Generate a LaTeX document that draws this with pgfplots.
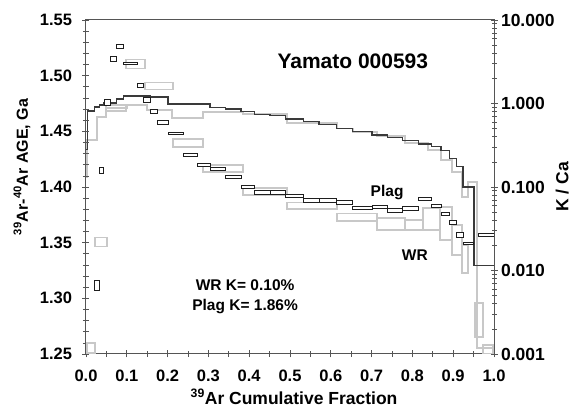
\documentclass[border=0pt]{standalone}
\usepackage{fontspec}
\setmainfont{Liberation Sans}
\usepackage{pgfplots}
\pgfplotsset{compat=1.18}
\definecolor{axgray}{HTML}{555555}
\definecolor{wrgray}{HTML}{C8C8C8}
\definecolor{plagblk}{HTML}{1E1E1E}
\definecolor{kcablk}{HTML}{3A3A3A}
\newcommand\pbx[4]{\addplot[plagbox] coordinates {(#1,#3)(#2,#3)(#2,#4)(#1,#4)} -- cycle;}
\newcommand\wbx[4]{\addplot[wrbox] coordinates {(#1,#3)(#2,#3)(#2,#4)(#1,#4)} -- cycle;}
\begin{document}
\begin{tikzpicture}
\useasboundingbox (-86pt,-57pt) rectangle (487pt,354pt);
% ---------- K/Ca axis (right, log) ----------
\begin{axis}[
  scale only axis, width=408pt, height=334pt,
  xmin=0, xmax=1, ymode=log, ymin=0.001, ymax=10,
  axis x line=none, axis y line*=right,
  y axis line style={-, axgray, line width=1pt},
  ytick={0.001,0.01,0.1,1,10},
  yticklabels={0.001,0.010,0.100,1.000,10.000},
  tick align=center, major tick length=7pt, minor tick length=5pt,
  every tick/.style={axgray, line width=0.7pt},
  yticklabel style={font=\fontsize{17.5}{20}\selectfont\bfseries},
  ylabel={K / Ca},
  ylabel style={at={(axis description cs:1.167,0.5)}, anchor=center,
    font=\fontsize{17.5}{20}\selectfont\bfseries},
]
% WR K/Ca
\addplot[const plot, draw=wrgray, line width=1.8pt, mark=none] coordinates {
 (0,0.13) (0.003,0.365) (0.027,0.689) (0.049,0.884) (0.101,0.959) (0.150,0.836)
 (0.211,0.670) (0.286,0.791) (0.385,0.743) (0.493,0.579) (0.615,0.502)
 (0.654,0.4595) (0.713,0.408) (0.782,0.3365) (0.838,0.2774) (0.870,0.2106)
 (0.897,0.151) (0.922,0.0759) (0.936,0.1148) (0.958,0.00118) (1.0,0.00118)};
% Plag K/Ca
\addplot[const plot, draw=kcablk, line width=1.1pt, mark=none] coordinates {
 (0,0.28) (0.003,0.813) (0.020,0.908) (0.034,0.959) (0.044,1.014) (0.074,1.132)
 (0.093,1.23) (0.157,1.197) (0.201,0.986) (0.304,0.901) (0.341,0.859)
 (0.380,0.798) (0.412,0.743) (0.451,0.714) (0.490,0.652) (0.532,0.605)
 (0.571,0.564) (0.615,0.502) (0.654,0.460) (0.701,0.420) (0.738,0.394)
 (0.775,0.358) (0.816,0.327) (0.846,0.304) (0.870,0.272) (0.890,0.221)
 (0.909,0.174) (0.924,0.100) (0.951,0.0116) (1.0,0.0116)};
\end{axis}
% ---------- Age axis (left) ----------
\begin{axis}[
  scale only axis, width=408pt, height=334pt,
  xmin=0, xmax=1, ymin=1.25, ymax=1.55,
  xtick={0,0.1,0.2,0.3,0.4,0.5,0.6,0.7,0.8,0.9,1.0},
  ytick={1.25,1.30,1.35,1.40,1.45,1.50,1.55},
  minor x tick num=1, minor y tick num=4,
  xtick pos=left, ytick pos=left,
  tick align=center, major tick length=7pt, minor tick length=6pt,
  every tick/.style={axgray, line width=0.7pt},
  axis line style={axgray, line width=1pt},
  /pgf/number format/assume math mode=true,
  x tick label style={/pgf/number format/.cd, fixed, fixed zerofill, precision=1, /tikz/.cd, yshift=-9pt},
  y tick label style={/pgf/number format/.cd, fixed, fixed zerofill, precision=2, /tikz/.cd, xshift=-7pt},
  ticklabel style={font=\fontsize{16.5}{19}\selectfont\bfseries},
  xlabel={\textsuperscript{39}Ar Cumulative Fraction},
  xlabel style={at={(axis description cs:0.51,-0.150)}, anchor=base,
    font=\fontsize{17.5}{20}\selectfont\bfseries},
  ylabel={\textsuperscript{39}Ar-\textsuperscript{40}Ar AGE, Ga},
  ylabel style={at={(axis description cs:-0.157,0.56)}, anchor=center,
    font=\fontsize{16}{19}\selectfont\bfseries},
  plagbox/.style={draw=plagblk, line width=0.9pt, fill=white, mark=none},
  wrbox/.style={draw=wrgray, line width=1.6pt, fill=none, mark=none},
]
% WR age spectrum (gray boxes)
\wbx{0.002}{0.022}{1.251}{1.260}
\wbx{0.022}{0.051}{1.3466}{1.3546}
\wbx{0.049}{0.098}{1.468}{1.4734}
\wbx{0.098}{0.145}{1.5065}{1.5145}
\wbx{0.145}{0.213}{1.4877}{1.4937}
\wbx{0.213}{0.287}{1.436}{1.443}
\wbx{0.287}{0.385}{1.4136}{1.4196}
\wbx{0.385}{0.493}{1.393}{1.399}
\wbx{0.493}{0.615}{1.380}{1.386}
\wbx{0.615}{0.713}{1.3693}{1.3763}
\wbx{0.713}{0.782}{1.3615}{1.372}
\wbx{0.782}{0.826}{1.3614}{1.3704}
\wbx{0.826}{0.868}{1.3614}{1.3811}
\wbx{0.868}{0.897}{1.3524}{1.382}
\wbx{0.897}{0.922}{1.3389}{1.3659}
\wbx{0.922}{0.936}{1.3228}{1.3479}
\wbx{0.953}{0.973}{1.2653}{1.2958}
\wbx{0.973}{0.998}{1.250}{1.258}
% Plag age spectrum (black boxes)
\pbx{0.020}{0.032}{1.3075}{1.3165}
\pbx{0.034}{0.042}{1.412}{1.418}
\pbx{0.044}{0.059}{1.4735}{1.4785}
\pbx{0.059}{0.074}{1.513}{1.517}
\pbx{0.074}{0.093}{1.524}{1.528}
\pbx{0.093}{0.125}{1.5098}{1.5122}
\pbx{0.125}{0.140}{1.489}{1.493}
\pbx{0.140}{0.157}{1.476}{1.480}
\pbx{0.157}{0.176}{1.4665}{1.4695}
\pbx{0.176}{0.201}{1.4565}{1.4595}
\pbx{0.201}{0.238}{1.447}{1.449}
\pbx{0.238}{0.272}{1.4275}{1.4305}
\pbx{0.272}{0.304}{1.4185}{1.4215}
\pbx{0.304}{0.341}{1.4145}{1.4175}
\pbx{0.341}{0.380}{1.4075}{1.4105}
\pbx{0.380}{0.412}{1.3983}{1.4017}
\pbx{0.412}{0.451}{1.3935}{1.3965}
\pbx{0.451}{0.490}{1.3935}{1.3965}
\pbx{0.490}{0.532}{1.3905}{1.3935}
\pbx{0.532}{0.571}{1.3865}{1.3895}
\pbx{0.571}{0.615}{1.3865}{1.3895}
\pbx{0.615}{0.654}{1.3845}{1.3875}
\pbx{0.654}{0.701}{1.3797}{1.3823}
\pbx{0.701}{0.738}{1.3805}{1.3835}
\pbx{0.738}{0.775}{1.3775}{1.3805}
\pbx{0.775}{0.816}{1.3793}{1.3827}
\pbx{0.816}{0.846}{1.3875}{1.3905}
\pbx{0.846}{0.870}{1.3817}{1.3843}
\pbx{0.870}{0.890}{1.3745}{1.3775}
\pbx{0.890}{0.909}{1.3662}{1.3698}
\pbx{0.909}{0.924}{1.355}{1.359}
\pbx{0.924}{0.949}{1.348}{1.350}
\pbx{0.961}{1.000}{1.3555}{1.3585}
% annotations
\node[font=\fontsize{21}{24}\selectfont\bfseries, anchor=base] at (axis cs:0.654,1.5066) {Yamato 000593};
\node[font=\fontsize{15.5}{18}\selectfont\bfseries, anchor=base] at (axis cs:0.738,1.3919) {Plag};
\node[font=\fontsize{15.5}{18}\selectfont\bfseries, anchor=base] at (axis cs:0.806,1.3344) {WR};
\node[font=\fontsize{15.5}{18}\selectfont\bfseries, anchor=base] at (axis cs:0.390,1.3066) {WR K= 0.10\%};
\node[font=\fontsize{15.5}{18}\selectfont\bfseries, anchor=base] at (axis cs:0.390,1.2895) {Plag K= 1.86\%};
\end{axis}
\end{tikzpicture}
\end{document}
